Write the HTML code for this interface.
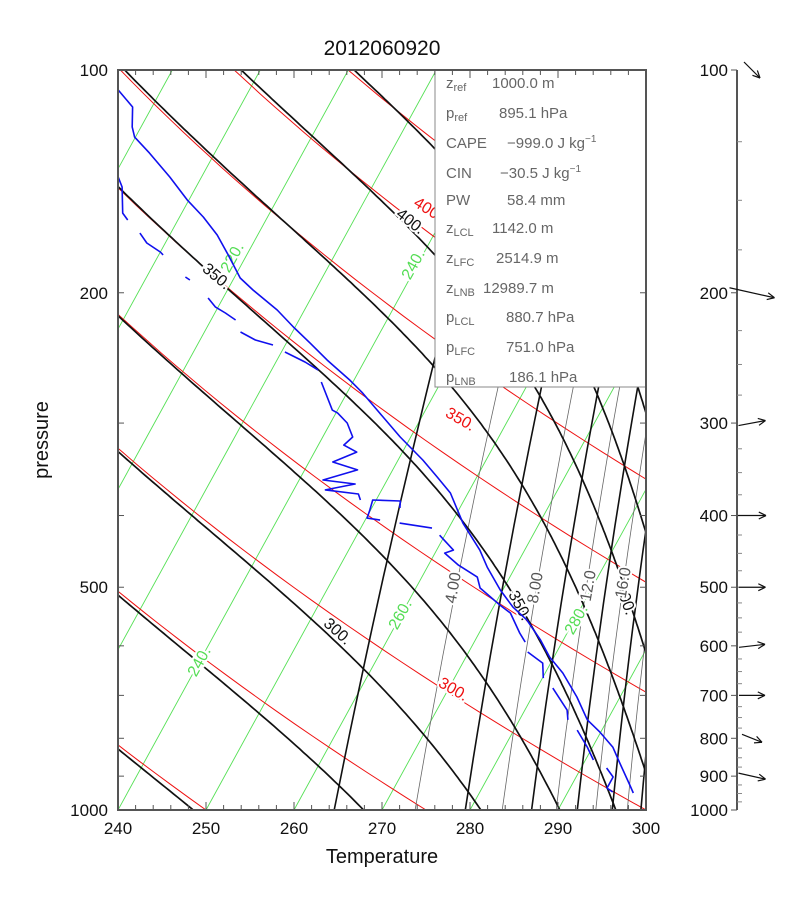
<!DOCTYPE html>
<html><head><meta charset="utf-8"><style>
html,body{margin:0;padding:0;background:#fff;}
svg{display:block;font-family:"Liberation Sans",sans-serif;}
</style></head><body>
<svg id="chart" width="810" height="910" viewBox="0 0 810 910" xmlns="http://www.w3.org/2000/svg">
<defs><clipPath id="plotclip"><rect x="118" y="70" width="528" height="740"/></clipPath></defs>
<text x="382" y="55" font-size="21" text-anchor="middle" fill="#111">2012060920</text>
<text x="0" y="0" font-size="20" text-anchor="middle" fill="#111" transform="translate(48,440) rotate(-90)">pressure</text>
<text x="382" y="863" font-size="20" text-anchor="middle" fill="#111">Temperature</text>
<g id="bg" clip-path="url(#plotclip)"></g>
<g id="labels"></g>
<g id="profiles" clip-path="url(#plotclip)"></g>
<g id="axes"></g>
<g id="infobox">
<rect x="435" y="70" width="211" height="317" fill="#fff" stroke="#888" stroke-width="1"/>
<g font-size="15" fill="#666">
<text x="446" y="88">z<tspan font-size="11" dy="3">ref</tspan></text><text x="492" y="88">1000.0 m</text>
<text x="446" y="118">p<tspan font-size="11" dy="3">ref</tspan></text><text x="499" y="118">895.1 hPa</text>
<text x="446" y="148">CAPE</text><text x="507" y="148">−999.0 J kg<tspan font-size="10" dy="-6">−1</tspan></text>
<text x="446" y="178">CIN</text><text x="500" y="178">−30.5 J kg<tspan font-size="10" dy="-6">−1</tspan></text>
<text x="446" y="205">PW</text><text x="507" y="205">58.4 mm</text>
<text x="446" y="233">z<tspan font-size="11" dy="3">LCL</tspan></text><text x="492" y="233">1142.0 m</text>
<text x="446" y="263">z<tspan font-size="11" dy="3">LFC</tspan></text><text x="496" y="263">2514.9 m</text>
<text x="446" y="293">z<tspan font-size="11" dy="3">LNB</tspan></text><text x="483" y="293">12989.7 m</text>
<text x="446" y="322">p<tspan font-size="11" dy="3">LCL</tspan></text><text x="506" y="322">880.7 hPa</text>
<text x="446" y="352">p<tspan font-size="11" dy="3">LFC</tspan></text><text x="506" y="352">751.0 hPa</text>
<text x="446" y="382">p<tspan font-size="11" dy="3">LNB</tspan></text><text x="509" y="382">186.1 hPa</text>
</g></g>
<g id="wind"></g>
</svg>
<script>
// ---- data ----
const tempP = [105.8,112.2,119.4,123.2,129.5,139.5,149.8,158.0,167.1,177.8,191.0,198.3,211.0,222.5,233.9,246.6,262.4,273.3,288.1,313.3,336.5,354.8,372.9,409.6,445.4,469.6,504.2,531.6,553.5,589.2,621.2,652.9,703.5,755.3,784.7,822.2,864.2,925.3,948.5];
const tempT = [194.8,197.8,199.0,199.9,202.6,206.4,209.8,212.7,215.4,217.9,220.7,222.9,226.9,229.8,232.7,235.7,239.5,241.8,244.5,248.8,252.8,255.5,258.0,261.3,264.9,266.8,269.7,272.2,274.6,277.4,279.5,282.0,285.1,287.7,289.9,292.3,294.1,296.6,297.5];
const dewP = [137.8,143.9,156.1,159.5,null,166.1,171.3,176.2,177.8,null,190.4,192.2,null,203.3,209.1,213.0,217.7,null,226.0,231.7,235.3,null,240.5,248.1,254.4,null,264.0,288.1,290.8,299.9,313.3,321.3,328.4,338.6,347.1,358.1,362.6,369.4,374.1,381.1,null,390.8,382.3,381.1,393.3,403.2,405.7,null,409.6,416.0,null,425.2,445.4,449.6,466.7,484.4,501.2,528.4,541.7,576.5,593.0,null,611.7,633.1,663.3,null,684.3,732.8,755.3,null,779.8,822.2,855.8,null,877.6,902.5,934.0,945.6];
const dewT = [200.1,201.6,203.3,204.3,null,206.5,207.9,210.0,210.5,null,214.4,215.1,null,218.3,219.7,221.2,222.8,null,224.1,226.3,228.6,null,230.4,233.3,235.3,null,236.4,239.4,240.2,241.9,243.4,242.9,244.8,242.7,246.0,242.7,246.6,243.6,247.6,248.2,null,253.2,252.8,249.6,249.9,250.1,251.7,null,254.1,258.1,null,259.4,261.9,261.1,263.4,266.3,267.3,270.6,272.3,274.6,275.8,null,276.7,279.1,280.1,null,281.8,284.8,285.5,null,287.2,289.4,290.9,null,292.9,294.2,294.2,295.1];
const xTickLabels = [240,250,260,270,280,290,300];
const yTickLabels = [100,200,500,1000];
const isotherms = [140,150,160,170,180,190,200,210,220,230,240,250,260,270,280,290,300];
const dryTheta = [225,250,275,300,325,350,375,400,425,450,475,500,525,550];
const moistThetaE = [225,250,275,300,325,350,375,400,425,450,475,500,525];
const mixRatios = [2,4,6,8,10,12,14,16,18,20,22,24];
const windP = [100,200,300,400,500,600,700,800,900];
const windU = [16,45,27,28,27,26,26,20,27];
const windV = [-16,-10,5,0,0,3,0,-8,-6];
const windLabels = [100,200,300,400,500,600,700,800,900,1000];

// ---- axes ----
const NS='http://www.w3.org/2000/svg';
function yP(p){return 70+740*Math.log10(p/100);}
function xT(T,p){return 118+(T-240)*8.8+0.549*(810-yP(p));}
function mk(tag,attrs,parent){const e=document.createElementNS(NS,tag);for(const k in attrs)e.setAttribute(k,attrs[k]);parent.appendChild(e);return e;}
const gBg=document.getElementById('bg'),gLabels=document.getElementById('labels'),gProf=document.getElementById('profiles'),gAxes=document.getElementById('axes'),gWind=document.getElementById('wind');
function pathFromFn(fn,p0,p1,n){let d='';for(let i=0;i<=n;i++){const p=p0*Math.pow(p1/p0,i/n);const T=fn(p);d+=(i?'L':'M')+xT(T,p).toFixed(1)+','+yP(p).toFixed(1);}return d;}

isotherms.forEach(T=>{
  const e=mk('path',{d:pathFromFn(()=>T,1000,100,2),stroke:'#55e055','stroke-width':0.9,fill:'none'},gBg);
  
  
});
dryTheta.forEach(th=>{
  const e=mk('path',{d:pathFromFn(p=>th*Math.pow(p/1000,0.286),1000,100,60),stroke:'#ee1111','stroke-width':1,fill:'none'},gBg);
  
  
});
function es(T){return 6.112*Math.exp(17.67*(T-273.15)/(T-29.65));}
function tdFromW(w,p){const e=w*p/(622+w);const l=Math.log(e/6.112);return 273.15+243.5*l/(17.67-l);}
mixRatios.forEach(w=>{
  const thick=(w%4===2);
  const e=mk('path',{d:pathFromFn(p=>tdFromW(w,p),1000,200,20),stroke:thick?'#111':'#666','stroke-width':thick?1.6:0.8,fill:'none'},gBg);
  
  
});
function thetaE(T,p){const e=es(T);const r=622*e/(p-e);return T*Math.pow(1000/p,0.2854*(1-0.00028*r))*Math.exp((3.376/T-0.00254)*r*(1+0.00081*r));}
function dTdlnp(T,p){const e=es(T);const rs=0.622*e/(p-e);const Rd=287,cp=1004,Lv=2.5e6;return (Rd*T+Lv*rs)/(cp+Lv*Lv*rs*0.622/(Rd*T*T));}
moistThetaE.forEach(te=>{
  let lo=180,hi=330;for(let i=0;i<50;i++){const m=(lo+hi)/2;if(thetaE(m,1000)<te)lo=m;else hi=m;}
  let T=(lo+hi)/2,lp=Math.log(1000);const h=-0.01;let d='M'+xT(T,1000).toFixed(1)+','+yP(1000).toFixed(1);
  const lpEnd=Math.log(100);
  while(lp>lpEnd){const p=Math.exp(lp);const k1=dTdlnp(T,p);const k2=dTdlnp(T+h*k1,Math.exp(lp+h));T+=h*(k1+k2)/2;lp+=h;const pn=Math.exp(lp);d+='L'+xT(T,pn).toFixed(1)+','+yP(pn).toFixed(1);}
  const e=mk('path',{d:d,stroke:'#111','stroke-width':1.7,fill:'none'},gBg);
  
  
});
function lab(txt,x,y,rot,col,name){const t=mk('text',{x:0,y:0,transform:'translate('+x+','+y+') rotate('+rot+')','font-size':16,'text-anchor':'middle','dominant-baseline':'middle',fill:col,stroke:'#fff','stroke-width':4,'paint-order':'stroke'},gLabels);t.textContent=txt;

}
lab('220.',233,258,-61,'#55dd55','isotherm-label-220');
lab('240.',414,265,-61,'#55dd55','isotherm-label-240-top');
lab('240.',200,662,-61,'#55dd55','isotherm-label-240');
lab('260.',401,615,-61,'#55dd55','isotherm-label-260');
lab('280.',577,620,-61,'#55dd55','isotherm-label-280');
lab('400.',428,210,32,'#ee1111','theta-label-400');
lab('350.',460,420,30,'#ee1111','theta-label-350');
lab('300.',453,690,30,'#ee1111','theta-label-300');
lab('400.',410,222,38,'#111','thetae-label-400-top');
lab('350.',216,277,40,'#111','thetae-label-350-top');
lab('300.',337,632,42,'#111','thetae-label-300');
lab('350.',519,606,62,'#111','thetae-label-350');
lab('400.',625,600,70,'#111','thetae-label-400');
lab('4.00',454,588,-80,'#555','mixing-label-4');
lab('8.00',536,588,-80,'#555','mixing-label-8');
lab('12.0',589,586,-80,'#555','mixing-label-12');
lab('16.0',624,583,-80,'#555','mixing-label-16');

function profPath(P,T){let d='',pen=false;for(let i=0;i<P.length;i++){if(P[i]===null){pen=false;continue;}d+=(pen?'L':'M')+xT(T[i],P[i]).toFixed(1)+','+yP(P[i]).toFixed(1);pen=true;}return d;}
const tl=mk('path',{d:profPath(tempP,tempT),stroke:'#1010ee','stroke-width':1.6,fill:'none','stroke-linejoin':'round'},gProf);


const dl=mk('path',{d:profPath(dewP,dewT),stroke:'#1010ee','stroke-width':1.6,fill:'none','stroke-linejoin':'round'},gProf);



const fr=mk('rect',{x:118,y:70,width:528,height:740,fill:'none',stroke:'#555','stroke-width':2},gAxes);


for(let T=240;T<=300;T+=2){const x=118+(T-240)*8.8;const L=(T%10===0)?8:5;
  mk('line',{x1:x,y1:810,x2:x,y2:810-L,stroke:'#555','stroke-width':1},gAxes);
  mk('line',{x1:x,y1:70,x2:x,y2:70+L,stroke:'#555','stroke-width':1},gAxes);}
for(let p=100;p<=1000;p+=100){const y=yP(p);
  mk('line',{x1:118,y1:y,x2:124,y2:y,stroke:'#555','stroke-width':1},gAxes);
  mk('line',{x1:646,y1:y,x2:640,y2:y,stroke:'#555','stroke-width':1},gAxes);}
xTickLabels.forEach(T=>{const t=mk('text',{x:118+(T-240)*8.8,y:834,'font-size':17,'text-anchor':'middle',fill:'#111'},gAxes);t.textContent=T;

});
yTickLabels.forEach(p=>{const t=mk('text',{x:108,y:yP(p)+6,'font-size':17,'text-anchor':'end',fill:'#111'},gAxes);t.textContent=p;

});

const box=document.getElementById('infobox');box.parentNode.appendChild(box);
gAxes.parentNode.appendChild(gAxes);

const wa=mk('line',{x1:737,y1:70,x2:737,y2:810,stroke:'#555','stroke-width':2},gWind);


for(let p=100;p<=1000;p+=25){const y=yP(p);
  if(p%100===0) mk('line',{x1:731,y1:y,x2:737,y2:y,stroke:'#555','stroke-width':1},gWind);
  else mk('line',{x1:737,y1:y,x2:742,y2:y,stroke:'#888','stroke-width':1},gWind);}
windLabels.forEach(p=>{const t=mk('text',{x:728,y:yP(p)+6,'font-size':17,'text-anchor':'end',fill:'#111'},gWind);t.textContent=p;

});
windP.forEach((p,i)=>{
  const cx=752,cy=yP(p),u=windU[i],v=windV[i];
  const x1=cx-u/2,y1=cy+v/2,x2=cx+u/2,y2=cy-v/2;
  const ang=Math.atan2(y2-y1,x2-x1);
  const g=mk('g',{stroke:'#111','stroke-width':1.2,fill:'none'},gWind);
  
  
  mk('line',{x1:x1,y1:y1,x2:x2,y2:y2},g);
  [0.45,-0.45].forEach(a=>{mk('line',{x1:x2,y1:y2,x2:x2-8*Math.cos(ang+a),y2:y2-8*Math.sin(ang+a)},g);});
});
</script>
</body></html>
